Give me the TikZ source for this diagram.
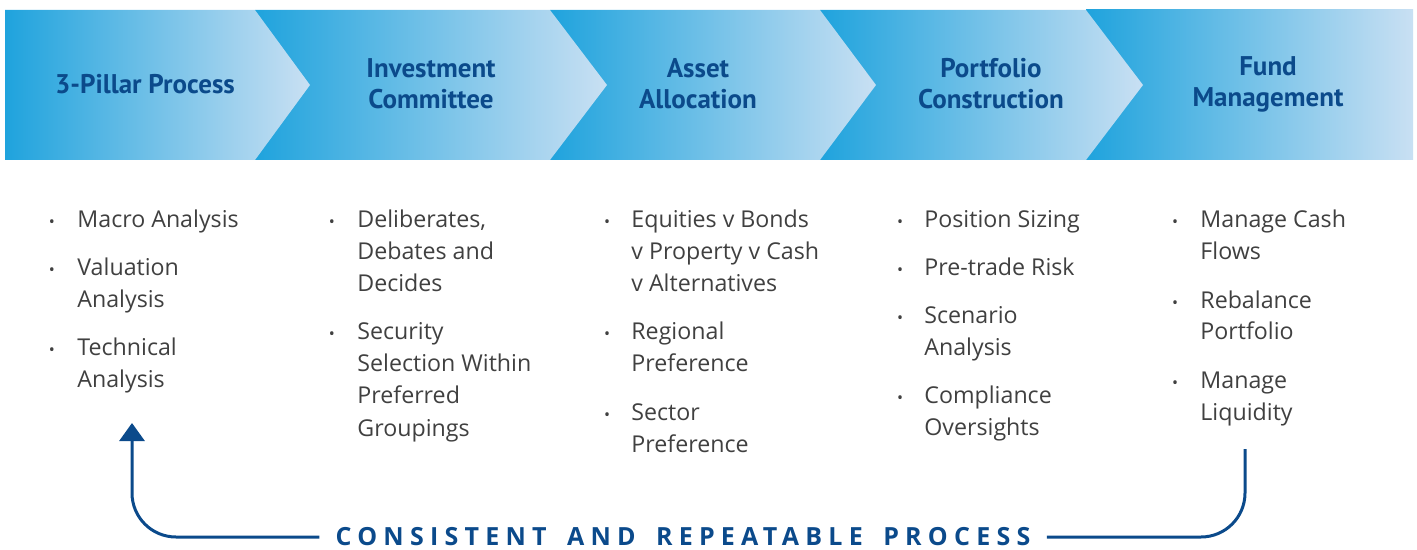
\documentclass[tikz,border=0pt]{standalone}
\usepackage{fontspec}
\setmainfont{Open Sans}
\newfontfamily\headfont{PT Sans}
\newfontfamily\bannerfont[LetterSpace=25,WordSpace=1.6]{Open Sans}
\usetikzlibrary{arrows.meta}

\definecolor{navy}{HTML}{0B4A8B}
\definecolor{skydark}{HTML}{1FA3DD}
\definecolor{skylight}{HTML}{C9E0F3}
\definecolor{bodygray}{HTML}{404040}

% item text with the baseline of its first line
\newcommand{\lines}[1]{\parbox[t]{120pt}{\raggedright #1}}

\tikzset{
  chevron/.style={left color=skydark, right color=skylight, draw=none},
  heading/.style={font=\headfont\bfseries\fontsize{13.5}{15.5}\selectfont, text=navy, align=center},
  point/.style={font=\fontsize{11.6}{16}\selectfont, text=bodygray, anchor=base west, inner sep=0pt},
  dot/.style={font=\fontsize{8}{16}\selectfont, text=bodygray, anchor=base, inner sep=0pt},
  banner/.style={font=\bannerfont\bfseries\fontsize{12.5}{15}\selectfont, text=navy, inner sep=8pt},
  loop/.style={navy, line width=1.5pt, rounded corners=22pt}
}

\begin{document}
\begin{tikzpicture}[x=0.5pt,y=-0.5pt]
\useasboundingbox (0,0) rectangle (1417,550);

% chevrons, last one first so each tip lies on top
\shade[chevron] (1086,10) -- (1413,10) -- (1413,160) -- (1086,160) -- cycle;
\shade[chevron] (820,10) -- (1086,10) -- (1143,85) -- (1086,160) -- (820,160) -- cycle;
\shade[chevron] (550,10) -- (820,10) -- (876,85) -- (820,160) -- (550,160) -- cycle;
\shade[chevron] (255,10) -- (550,10) -- (607,85) -- (550,160) -- (255,160) -- cycle;
\shade[chevron] (5,10) -- (255,10) -- (310,85) -- (255,160) -- (5,160) -- cycle;

% step titles
\node[heading] (pillar) at (145,84) {3-Pillar Process};
\node[heading] (committee) at (431,84) {Investment\\Committee};
\node[heading] (allocation) at (698,84) {Asset\\Allocation};
\node[heading] (construction) at (991,84) {Portfolio\\Construction};
\node[heading] (management) at (1268,84) {Fund\\Management};

% column 1
\node[dot] (d11) at (52,228) {\textbullet};
\node[point] (macro) at (77,228) {\lines{Macro Analysis}};
\node[dot] (d12) at (52,276) {\textbullet};
\node[point] (valuation) at (77,276) {\lines{Valuation\\Analysis}};
\node[dot] (d13) at (52,356) {\textbullet};
\node[point] (technical) at (77,356) {\lines{Technical\\Analysis}};

% column 2
\node[dot] (d21) at (332,228) {\textbullet};
\node[point] (debates) at (357,228) {\lines{Deliberates,\\Debates and\\Decides}};
\node[dot] (d22) at (332,340) {\textbullet};
\node[point] (selection) at (357,340) {\lines{Security\\Selection Within\\Preferred\\Groupings}};

% column 3
\node[dot] (d31) at (607,228) {\textbullet};
\node[point] (equities) at (631,228) {\lines{Equities v Bonds\\v Property v Cash\\v Alternatives}};
\node[dot] (d32) at (607,340) {\textbullet};
\node[point] (regional) at (631,340) {\lines{Regional\\Preference}};
\node[dot] (d33) at (607,420) {\textbullet};
\node[point] (sector) at (631,420) {\lines{Sector\\Preference}};

% column 4
\node[dot] (d41) at (900,228) {\textbullet};
\node[point] (sizing) at (924,228) {\lines{Position Sizing}};
\node[dot] (d42) at (900,276) {\textbullet};
\node[point] (pretrade) at (924,276) {\lines{Pre-trade Risk}};
\node[dot] (d43) at (900,324) {\textbullet};
\node[point] (scenario) at (924,324) {\lines{Scenario\\Analysis}};
\node[dot] (d44) at (900,403) {\textbullet};
\node[point] (compliance) at (924,403) {\lines{Compliance\\Oversights}};

% column 5
\node[dot] (d51) at (1175,228) {\textbullet};
\node[point] (cash) at (1200,228) {\lines{Manage Cash\\Flows}};
\node[dot] (d52) at (1175,308) {\textbullet};
\node[point] (rebalance) at (1200,308) {\lines{Rebalance\\Portfolio}};
\node[dot] (d53) at (1175,388) {\textbullet};
\node[point] (liquidity) at (1200,388) {\lines{Manage\\Liquidity}};

% feedback loop
\node[banner] (motto) at (683,537) {CONSISTENT AND REPEATABLE PROCESS};
\coordinate (back) at (132,423);
\coordinate (fund) at (1245,449);
\draw[loop, -{Triangle[width=12.5pt,length=9pt]}] (motto.west) -| (back);
\draw[loop] (fund) |- (motto.east);

\end{tikzpicture}
\end{document}
